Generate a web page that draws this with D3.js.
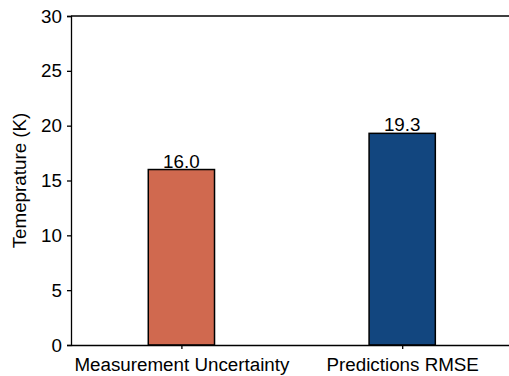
<!DOCTYPE html>
<html>
<head>
<meta charset="utf-8">
<title>Temperature bars</title>
<script src="https://cdn.jsdelivr.net/npm/d3@7"></script>
<style>
  body { margin: 0; background: #fff; }
  svg text { font-family: "Liberation Sans", Arial, sans-serif; fill: #000; }
</style>
</head>
<body>
<div id="chart"></div>
<script>
// data
var categories = ["Measurement Uncertainty", "Predictions RMSE"];
var values = [16.0, 19.3];
var barColors = ["#d0694f", "#12467f"];
var yTicks = [0, 5, 10, 15, 20, 25, 30];

var W = 509, H = 376;
var mLeft = 71, mTop = 16, mBottom = 345;
var unit = 220.8; // px between bar centers
var fs = "18.8px";

var svg = d3.select("#chart").append("svg")
    .attr("width", W).attr("height", H);

var x = d3.scaleLinear().domain([-0.5, 1.5]).range([mLeft, mLeft + 2 * unit]);
var y = d3.scaleLinear().domain([0, 30]).range([mBottom, mTop]);
var barW = 0.3;

// bars
svg.selectAll("rect.bar")
    .data(values)
    .enter().append("rect")
    .attr("class", "bar")
    .attr("x", function(d, i) { return x(i - barW / 2); })
    .attr("width", x(barW) - x(0))
    .attr("y", function(d) { return y(d); })
    .attr("height", function(d) { return y(0) - y(d); })
    .attr("fill", function(d, i) { return barColors[i]; })
    .attr("stroke", "#000")
    .attr("stroke-width", 1.5);

// value labels
svg.selectAll("text.val")
    .data(values)
    .enter().append("text")
    .attr("class", "val")
    .attr("x", function(d, i) { return x(i); })
    .attr("y", function(d) { return y(d) - 2; })
    .attr("text-anchor", "middle")
    .style("font-size", fs)
    .text(function(d) { return d.toFixed(1); });

// y axis
var yAxis = svg.append("g")
    .attr("transform", "translate(" + mLeft + ",0)")
    .call(d3.axisLeft(y).tickValues(yTicks).tickSize(4).tickPadding(5));
yAxis.select(".domain").attr("stroke-width", 1.3);
yAxis.selectAll(".tick line").attr("stroke-width", 1.3);
yAxis.selectAll(".tick text").style("font-size", fs).style("font-family", "Liberation Sans, Arial, sans-serif");

// x axis
var xAxis = svg.append("g")
    .attr("transform", "translate(0," + mBottom + ")")
    .call(d3.axisBottom(x).tickValues([0, 1])
        .tickFormat(function(d) { return categories[d]; })
        .tickSize(4).tickPadding(9).tickSizeOuter(0));
xAxis.select(".domain").attr("stroke-width", 1.3);
xAxis.selectAll(".tick line").attr("stroke-width", 1.3);
xAxis.selectAll(".tick text").style("font-size", fs).style("font-family", "Liberation Sans, Arial, sans-serif");

// top spine
svg.append("line")
    .attr("x1", mLeft).attr("x2", x(1.5))
    .attr("y1", mTop).attr("y2", mTop)
    .attr("stroke", "#000").attr("stroke-width", 1.3);

// y title
svg.append("text")
    .attr("transform", "translate(26," + ((mTop + mBottom) / 2) + ") rotate(-90)")
    .attr("text-anchor", "middle")
    .style("font-size", fs)
    .text("Temeprature (K)");
</script>
</body>
</html>
